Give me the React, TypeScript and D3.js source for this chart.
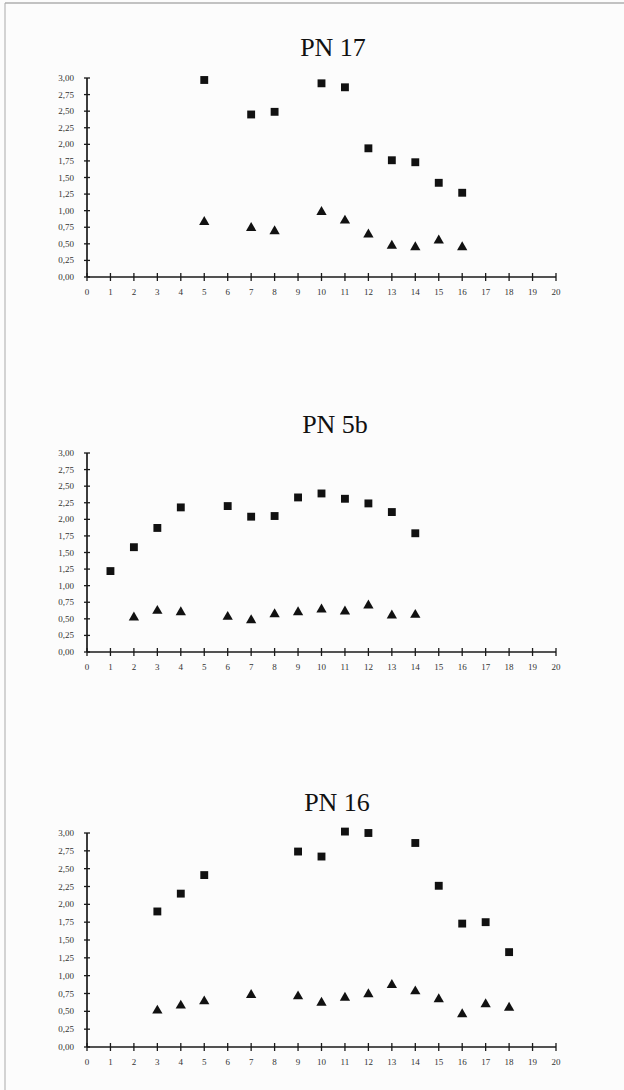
import React from "react";
import * as d3 from "d3";

const xTicks = d3.range(0, 21);
const yTicks = [0, 0.25, 0.5, 0.75, 1, 1.25, 1.5, 1.75, 2, 2.25, 2.5, 2.75, 3];

const pn17SqX = [5, 7, 8, 10, 11, 12, 13, 14, 15, 16];
const pn17Sq = [2.97, 2.45, 2.49, 2.92, 2.86, 1.94, 1.76, 1.73, 1.42, 1.27];
const pn17TriX = [5, 7, 8, 10, 11, 12, 13, 14, 15, 16];
const pn17Tri = [0.83, 0.74, 0.69, 0.98, 0.85, 0.64, 0.47, 0.45, 0.55, 0.45];

const pn5bSqX = [1, 2, 3, 4, 6, 7, 8, 9, 10, 11, 12, 13, 14];
const pn5bSq = [1.22, 1.58, 1.87, 2.18, 2.2, 2.04, 2.05, 2.33, 2.39, 2.31, 2.24, 2.11, 1.79];
const pn5bTriX = [2, 3, 4, 6, 7, 8, 9, 10, 11, 12, 13, 14];
const pn5bTri = [0.52, 0.62, 0.6, 0.53, 0.48, 0.57, 0.6, 0.64, 0.61, 0.7, 0.55, 0.56];

const pn16SqX = [3, 4, 5, 9, 10, 11, 12, 14, 15, 16, 17, 18];
const pn16Sq = [1.9, 2.15, 2.41, 2.74, 2.67, 3.02, 3.0, 2.86, 2.26, 1.73, 1.75, 1.33];
const pn16TriX = [3, 4, 5, 7, 9, 10, 11, 12, 13, 14, 15, 16, 17, 18];
const pn16Tri = [0.51, 0.58, 0.64, 0.73, 0.71, 0.62, 0.69, 0.74, 0.87, 0.78, 0.67, 0.46, 0.6, 0.55];

const charts = [
  { title: "PN 17", titleX: 333, titleY: 56, top: 78, bottom: 277, sqX: pn17SqX, sq: pn17Sq, triX: pn17TriX, tri: pn17Tri },
  { title: "PN 5b", titleX: 335, titleY: 433, top: 453, bottom: 652, sqX: pn5bSqX, sq: pn5bSq, triX: pn5bTriX, tri: pn5bTri },
  { title: "PN 16", titleX: 337, titleY: 811, top: 833, bottom: 1047, sqX: pn16SqX, sq: pn16Sq, triX: pn16TriX, tri: pn16Tri },
];

const fmt = (v: number) => d3.format(".2f")(v).replace(".", ",");
const serif = "'Liberation Serif', 'DejaVu Serif', serif";

export default function App() {
  const svgRef = React.useRef<SVGSVGElement>(null);

  React.useEffect(() => {
    const svg = d3.select(svgRef.current);
    svg.selectAll(".chart").remove();
    const x = d3.scaleLinear().domain([0, 20]).range([87, 556]);
    const square = d3.symbol(d3.symbolSquare, 62)();
    const triangle = d3.symbol(d3.symbolTriangle, 46)();

    charts.forEach((c) => {
      const g = svg.append("g").attr("class", "chart");
      const y = d3.scaleLinear().domain([0, 3]).range([c.bottom, c.top]);

      g.append("text")
        .attr("x", c.titleX)
        .attr("y", c.titleY)
        .attr("text-anchor", "middle")
        .attr("font-family", serif)
        .attr("font-size", 26)
        .attr("fill", "#111")
        .text(c.title);

      // axes
      g.append("line")
        .attr("x1", x(0)).attr("x2", x(0))
        .attr("y1", y(0)).attr("y2", y(3))
        .attr("stroke", "#1a1a1a").attr("stroke-width", 1.7);
      g.append("line")
        .attr("x1", x(0)).attr("x2", x(20))
        .attr("y1", y(0)).attr("y2", y(0))
        .attr("stroke", "#1a1a1a").attr("stroke-width", 1.7);

      g.selectAll(".yt")
        .data(yTicks)
        .join("line")
        .attr("x1", x(0) - 3).attr("x2", x(0) + 3)
        .attr("y1", (d) => y(d)).attr("y2", (d) => y(d))
        .attr("stroke", "#1a1a1a").attr("stroke-width", 1.3);
      g.selectAll(".yl")
        .data(yTicks)
        .join("text")
        .attr("x", 74)
        .attr("y", (d) => y(d) + 3)
        .attr("text-anchor", "end")
        .attr("font-family", serif)
        .attr("font-size", 9)
        .attr("fill", "#333")
        .text((d) => fmt(d));

      g.selectAll(".xt")
        .data(xTicks)
        .join("line")
        .attr("x1", (d) => x(d)).attr("x2", (d) => x(d))
        .attr("y1", y(0) - 4).attr("y2", y(0) + 4)
        .attr("stroke", "#1a1a1a").attr("stroke-width", 1.3);
      g.selectAll(".xl")
        .data(xTicks)
        .join("text")
        .attr("x", (d) => x(d))
        .attr("y", y(0) + 18)
        .attr("text-anchor", "middle")
        .attr("font-family", serif)
        .attr("font-size", 9)
        .attr("fill", "#333")
        .text((d) => String(d));

      g.selectAll(".sq")
        .data(c.sq)
        .join("path")
        .attr("d", square)
        .attr("transform", (d, i) => `translate(${x(c.sqX[i])},${y(d)})`)
        .attr("fill", "#111");
      g.selectAll(".tri")
        .data(c.tri)
        .join("path")
        .attr("d", triangle)
        .attr("transform", (d, i) => `translate(${x(c.triX[i])},${y(d)})`)
        .attr("fill", "#111");
    });
  }, []);

  return (
    <svg
      ref={svgRef}
      width={624}
      height={1090}
      style={{ position: "absolute", left: 0, top: 0, background: "#fcfcfc" }}
    >
      <line x1={5} y1={3} x2={624} y2={3} stroke="#888" strokeWidth={1.2} />
      <line x1={5} y1={3} x2={5} y2={1090} stroke="#aaa" strokeWidth={1} />
    </svg>
  );
}
